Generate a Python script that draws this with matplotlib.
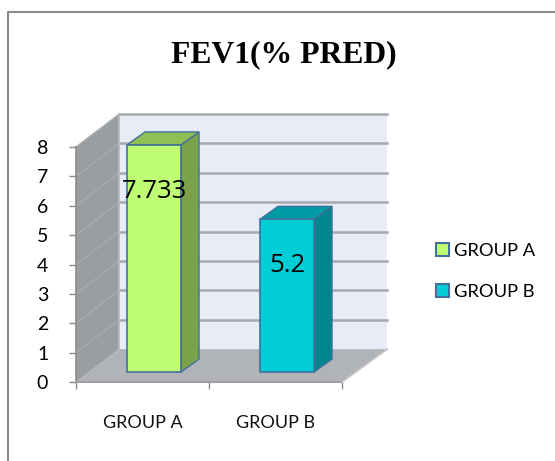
import matplotlib
matplotlib.use("Agg")
import matplotlib.pyplot as plt
from matplotlib.lines import Line2D
from matplotlib.patches import Patch, Polygon

# data
groups = ["GROUP A", "GROUP B"]
values = [7.733, 5.2]
value_labels = ["7.733", "5.2"]
y_ticks = [0, 1, 2, 3, 4, 5, 6, 7, 8]

front_colors = ["#BFFE74", "#00CDD6"]
side_colors = ["#7BA24B", "#00868F"]
top_colors = ["#8FBF55", "#009AA5"]
edge_color = "#41719C"

W, H = 555, 461
fig = plt.figure(figsize=(W / 100, H / 100), dpi=100, facecolor="white")
ax = fig.add_axes([76 / W, 1 - 382 / H, 266 / W, 235 / H], facecolor="none")
ax.set_xlim(0, 2)
ax.set_ylim(0, 8)

# depth of the 3d box, in data units
dx, dy = 0.325, 1.12
bar_w, bar_dx, bar_dy = 0.406, 0.135, 0.44
base = 0.34


def poly(pts, color, z, ec="none", lw=0):
    ax.add_patch(Polygon(pts, closed=True, fc=color, ec=ec, lw=lw, zorder=z, clip_on=False))


# walls and floor
poly([(dx, dy), (2 + 0.015 + dx, dy), (2 + 0.015 + dx, 8 + dy), (dx, 8 + dy)], "#E8ECF6", 1)
poly([(0, 0), (dx, dy), (dx, 8 + dy), (0, 8)], "#9A9DA1", 1)
poly([(0, 0), (2, 0), (2 + 0.015 + dx, dy), (dx, dy)], "#B0B3B7", 2)

# gridlines
for t in y_ticks[1:]:
    ax.plot([dx, 2 + 0.015 + dx], [t + dy, t + dy], color="#A8A9AC", lw=1.8, zorder=1.5, clip_on=False)
    ax.plot([0, dx], [t, t + dy], color="#A9ABAE", lw=1.0, zorder=1.5, clip_on=False)
ax.plot([dx, dx], [dy, 8 + dy], color="#B8BABD", lw=1.2, zorder=1.5, clip_on=False)
ax.plot([0, 2], [0, 0], color="#A0A0A0", lw=1.5, zorder=3, clip_on=False)
ax.plot([2, 2 + 0.015 + dx], [0, dy], color="#C4C4C4", lw=1.2, zorder=3, clip_on=False)

# bars
for i, v in enumerate(values):
    x0 = i + 0.5 + 0.087 - bar_w / 2
    x1 = x0 + bar_w
    y0 = base
    y1 = v + base
    poly([(x1, y0), (x1 + bar_dx, y0 + bar_dy), (x1 + bar_dx, y1 + bar_dy), (x1, y1)],
         side_colors[i], 4, edge_color, 1.0)
    poly([(x0, y1), (x1, y1), (x1 + bar_dx, y1 + bar_dy), (x0 + bar_dx, y1 + bar_dy)],
         top_colors[i], 4, edge_color, 1.0)
    poly([(x0, y0), (x1, y0), (x1, y1), (x0, y1)], front_colors[i], 5, edge_color, 1.2)
    ax.annotate(value_labels[i], (i + 0.5 + 0.087, y1), xytext=(0, -33.5), textcoords="offset points",
                ha="center", va="center", fontsize=18.5, family="Open Sans", color="black",
                zorder=6, annotation_clip=False)

# axes
for s in ["top", "right"]:
    ax.spines[s].set_visible(False)
ax.spines["left"].set_color("#8C8C8C")
ax.spines["bottom"].set_visible(False)
ax.spines["left"].set_linewidth(1.2)
ax.set_yticks(y_ticks)
ax.set_xticks([0, 1, 2])
ax.set_xticklabels([])
ax.set_xticks([0.5, 1.5], minor=True)
ax.set_xticklabels(groups, minor=True, fontsize=13, family="Lato", color="#111111")
ax.tick_params(axis="x", which="minor", length=0, pad=24)
ax.tick_params(axis="x", which="major", length=5, width=1, color="#8C8C8C")
ax.tick_params(axis="y", length=5, width=1, color="#8C8C8C", labelsize=14, pad=15)
for lab in ax.get_yticklabels():
    lab.set_family("Lato")
    lab.set_color("black")

# title
fig.text(284 / W, 1 - 55 / H, "FEV1(% PRED)", ha="center", va="center", fontsize=22.8,
         family="Liberation Serif", weight="bold", color="black")

# legend
handles = [Patch(fc=front_colors[i], ec=edge_color, lw=1.5, label=groups[i]) for i in range(2)]
fig.legend(handles=handles, loc="center left", bbox_to_anchor=(436 / W, 1 - 271.5 / H), frameon=False,
           prop={"family": "Lato", "size": 13.2}, handlelength=0.72, handleheight=0.72,
           handletextpad=0.28, labelspacing=1.4, borderpad=0, borderaxespad=0)

# outer chart frame, cropped at right and bottom
fig.add_artist(Line2D([8 / W, 8 / W, 1], [0, 1 - 12.5 / H, 1 - 12.5 / H], color="#8A8A8A", lw=1.5))

fig.savefig("out.png", dpi=100)
